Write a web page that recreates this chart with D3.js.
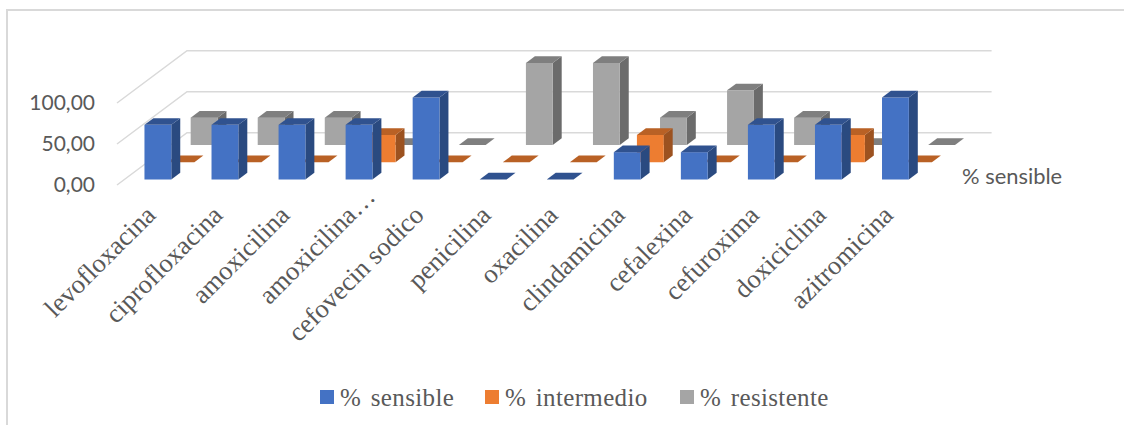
<!DOCTYPE html>
<html>
<head>
<meta charset="utf-8">
<script src="https://cdn.jsdelivr.net/npm/d3@7"></script>
<style>
  body { margin: 0; background: #fff; }
  svg { display: block; }
</style>
</head>
<body>
<div id="chart"></div>
<script>
const categories = ["levofloxacina", "ciprofloxacina", "amoxicilina", "amoxicilina…", "cefovecin sodico", "penicilina", "oxacilina", "clindamicina", "cefalexina", "cefuroxima", "doxiciclina", "azitromicina"];
const sensible = [66.67, 66.67, 66.67, 66.67, 100, 0, 0, 33.33, 33.33, 66.67, 66.67, 100];
const intermedio = [0, 0, 0, 33.33, 0, 0, 0, 33.33, 0, 0, 33.33, 0];
const resistente = [33.33, 33.33, 33.33, 0, 0, 100, 100, 33.33, 66.67, 33.33, 0, 0];
const yTicks = [0, 50, 100];

const series = [
    { name: "% sensible", values: sensible, front: "#4472C4", top: "#30528F", side: "#2A4A80" },
    { name: "% intermedio", values: intermedio, front: "#ED7D31", top: "#B96125", side: "#9C5220" },
    { name: "% resistente", values: resistente, front: "#A5A5A5", top: "#7F7F7F", side: "#6B6B6B" }
];

const width = 1124, height = 425;
// the floor of the 3d box, front edge and how far the back wall is shifted
const floorLeft = 117, floorRight = 921.6, floorFront = 185;
const depthX = 70, depthY = 52.3;
const barDepth = 0.128;

const svg = d3.select("#chart").append("svg")
    .attr("width", width)
    .attr("height", height);

// frame, only top and left are in the picture
svg.append("path")
    .attr("d", d3.line()([[7, height], [7, 10], [width, 10]]))
    .attr("fill", "none")
    .attr("stroke", "#d9d9d9")
    .attr("stroke-width", 2);

const x = d3.scaleBand()
    .domain(categories)
    .range([floorLeft, floorRight])
    .paddingInner(0.6)
    .paddingOuter(0.3);

const y = d3.scaleLinear()
    .domain([0, 100])
    .range([floorFront, floorFront - 82]);

// depth of each row, 0 is the front of the box and 1 the back wall
const z = d3.scalePoint()
    .domain(series.map(s => s.name))
    .range([0.105, 0.765]);

const px = d => d * depthX;
const py = d => -d * depthY;

// gridlines, floor side and back wall
const grid = svg.append("g");
yTicks.forEach(t => {
    const pts = [[floorLeft, y(t)], [floorLeft + depthX, y(t) - depthY], [floorRight + depthX, y(t) - depthY]];
    grid.append("path")
        .attr("d", d3.line()(pts))
        .attr("fill", "none")
        .attr("stroke", "#d9d9d9")
        .attr("stroke-width", 1.5);
});

// back row first so the nearer rows cover it
series.slice().reverse().forEach(s => {
    const d0 = z(s.name), d1 = d0 + barDepth;
    const row = svg.append("g").attr("class", "row");
    s.values.forEach((v, i) => {
        const x0 = x(categories[i]) + px(d0);
        const x1 = x0 + x.bandwidth();
        const yb = y(0) + py(d0);
        const yt = y(v) + py(d0);
        const ox = px(d1) - px(d0), oy = py(d1) - py(d0);
        if (v > 0) {
            row.append("path")
                .attr("d", d3.line()([[x1, yt], [x1 + ox, yt + oy], [x1 + ox, yb + oy], [x1, yb]]))
                .attr("fill", s.side);
            row.append("rect")
                .attr("x", x0).attr("y", yt)
                .attr("width", x.bandwidth()).attr("height", yb - yt)
                .attr("fill", s.front);
        }
        row.append("path")
            .attr("d", d3.line()([[x0, yt], [x0 + ox, yt + oy], [x1 + ox, yt + oy], [x1, yt]]))
            .attr("fill", s.top);
    });
});

// y axis
const yAxis = svg.append("g")
    .attr("transform", "translate(98,0)")
    .call(d3.axisLeft(y).tickValues(yTicks).tickSize(0).tickFormat(d => d3.format(".2f")(d).replace(".", ",")));
yAxis.select(".domain").remove();
yAxis.selectAll("text")
    .style("font-family", "Lato")
    .style("font-size", "21px")
    .style("fill", "#595959");

// x axis, long labels run down to the left
const xAxis = svg.append("g")
    .attr("transform", `translate(0,${floorFront + 25})`)
    .call(d3.axisBottom(x).tickSize(0));
xAxis.select(".domain").remove();
xAxis.selectAll("text")
    .attr("transform", "rotate(-45)")
    .attr("text-anchor", "end")
    .attr("x", d => d.endsWith("…") ? 26 : 0)
    .attr("y", 0)
    .attr("dy", "0.35em")
    .style("font-family", "Liberation Serif")
    .style("font-size", "26.5px")
    .style("fill", "#595959");

// series name on the depth axis
svg.append("text")
    .attr("x", 962).attr("y", 184)
    .style("font-family", "Lato")
    .style("font-size", "21.9px")
    .style("fill", "#595959")
    .text(series[0].name);

// legend
const legendX = [320, 485, 680];
const legend = svg.append("g")
    .selectAll("g")
    .data(series)
    .join("g")
    .attr("transform", (d, i) => `translate(${legendX[i]},390)`);
legend.append("rect")
    .attr("width", 14).attr("height", 14)
    .attr("fill", d => d.front);
legend.append("text")
    .attr("x", 20).attr("y", 16)
    .style("font-family", "Liberation Serif")
    .style("font-size", "25px")
    .style("letter-spacing", "0.35px")
    .style("word-spacing", "3px")
    .style("fill", "#595959")
    .text(d => d.name);
</script>
</body>
</html>
